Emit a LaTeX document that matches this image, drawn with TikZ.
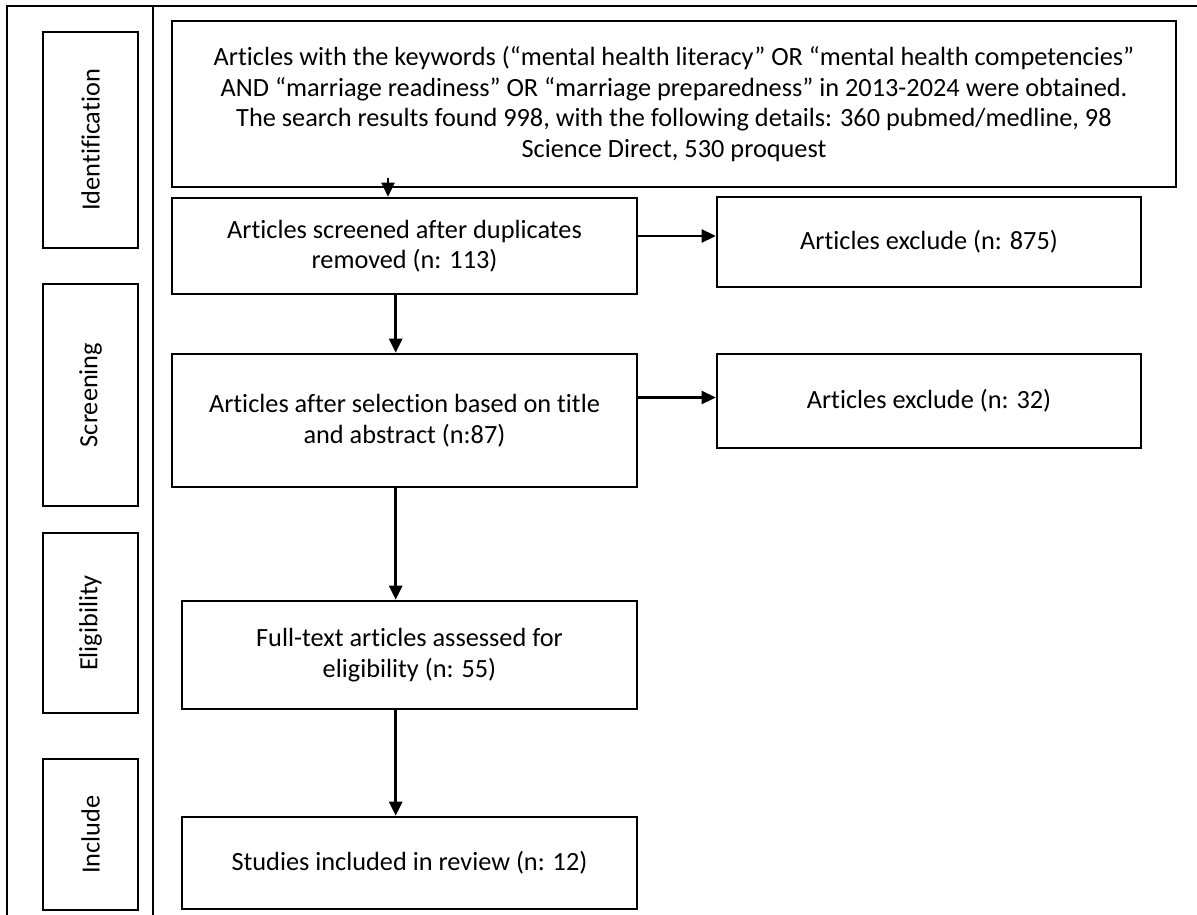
\documentclass[tikz,border=0pt]{standalone}
\usepackage{fontspec}
\setmainfont{Carlito}[Ligatures=NoCommon,RawFeature={-liga;-clig;-calt;-dlig}]
\usetikzlibrary{arrows.meta}
\begin{document}
\begin{tikzpicture}[x=1pt,y=-1pt,
  box/.style={draw, line width=2.6pt, inner sep=0pt, align=center, font=\fontsize{26.3}{30.5}\selectfont},
  arr/.style={line width=2.6pt, -{Triangle[length=14pt,width=13pt]}},
  frameline/.style={line width=2.6pt}]
\useasboundingbox (0,0) rectangle (1197,915);
% frame
\coordinate (ftl) at (7,6);
\coordinate (ftr) at (1197,6);
\coordinate (fbl) at (7,915);
\coordinate (dt) at (153,6);
\coordinate (db) at (153,915);
\draw[frameline] (ftr) -- (ftl) -- (fbl);
\draw[frameline] (dt) -- (db);
% stage labels
\node[box, rotate=90, minimum width=216pt, minimum height=95pt] (lid) at (90.5,140) {Identification};
\node[box, rotate=90, minimum width=222pt, minimum height=95pt] (lscr) at (90.5,395) {Screening};
\node[box, rotate=90, minimum width=180pt, minimum height=95pt] (lel) at (90.5,623) {Eligibility};
\node[box, rotate=90, minimum width=151pt, minimum height=95pt] (linc) at (90.5,834.5) {Include};
% main boxes
\node[box, minimum width=1004pt, minimum height=166pt] (top) at (674,104)
 {Articles with the keywords (“mental health literacy” OR “mental health competencies”\\
  AND “marriage readiness” OR “marriage preparedness” in 2013-2024 were obtained.\\
  The search results found 998, with the following details: 360 pubmed/medline, 98\\
  Science Direct, 530 proquest};
\node[box, minimum width=465pt, minimum height=96pt] (scr) at (404.5,246)
 {Articles screened after duplicates\\ removed (n: 113)};
\node[box, minimum width=465pt, minimum height=133pt] (sel) at (404.5,420.5)
 {Articles after selection based on title\\ and abstract (n:87)};
\node[box, minimum width=455pt, minimum height=108pt] (full) at (409.5,655)
 {Full-text articles assessed for\\ eligibility (n: 55)};
\node[box, minimum width=455pt, minimum height=92pt] (inc) at (409.5,863)
 {Studies included in review (n: 12)};
\node[box, minimum width=424pt, minimum height=90pt] (ex1) at (929,242)
 {Articles exclude (n: 875)};
\node[box, minimum width=424pt, minimum height=94pt] (ex2) at (929,401)
 {Articles exclude (n: 32)};
% connectors
\coordinate (a0) at (388,178);
\coordinate (ax) at (395.7,0);
\coordinate (ay1) at (0,236);
\coordinate (ay2) at (0,397.5);
\draw[arr] (a0) -- (scr.north -| a0);
\draw[arr] (scr.south -| ax) -- (sel.north -| ax);
\draw[arr] (sel.south -| ax) -- (full.north -| ax);
\draw[arr] (full.south -| ax) -- (inc.north -| ax);
\draw[arr] (scr.east |- ay1) -- (ex1.west |- ay1);
\draw[arr] (sel.east |- ay2) -- (ex2.west |- ay2);
\end{tikzpicture}
\end{document}
